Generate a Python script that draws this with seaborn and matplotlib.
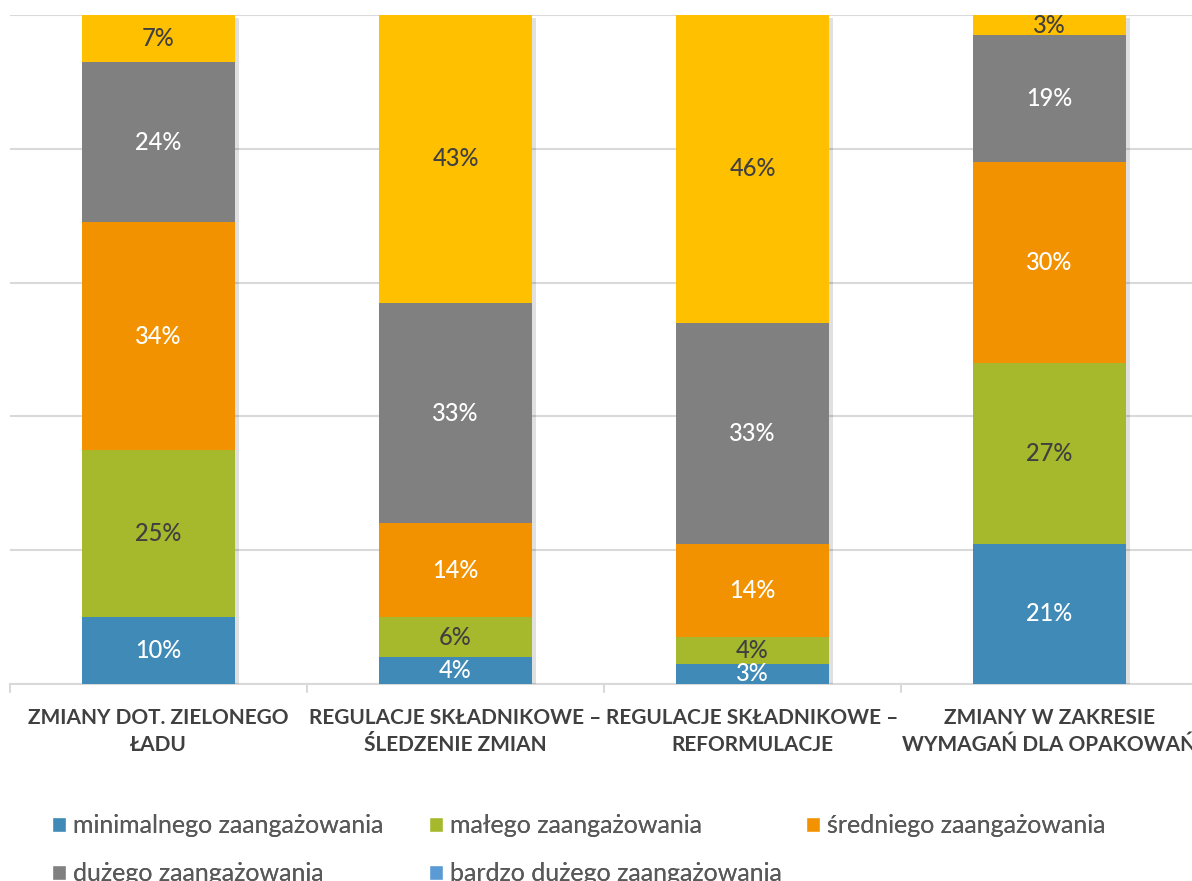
import matplotlib
matplotlib.use("Agg")
import matplotlib.pyplot as plt
import seaborn as sns
import pandas as pd
import numpy as np
from matplotlib import patheffects as pe
from matplotlib.patches import Patch

# Data (percent of respondents per topic)
categories = [
    "ZMIANY DOT. ZIELONEGO\nŁADU",
    "REGULACJE SKŁADNIKOWE –\nŚLEDZENIE ZMIAN",
    "REGULACJE SKŁADNIKOWE –\nREFORMULACJE",
    "ZMIANY W ZAKRESIE\nWYMAGAŃ DLA OPAKOWAŃ",
]
minimal = [10, 4, 3, 21]
small = [25, 6, 4, 27]
medium = [34, 14, 14, 30]
large = [24, 33, 33, 19]
top_share = [7, 43, 46, 3]

legend_labels = [
    "minimalnego zaangażowania",
    "małego zaangażowania",
    "średniego zaangażowania",
    "dużego zaangażowania",
    "bardzo dużego zaangażowania",
]

BLUE = "#3F8AB6"
GREEN = "#A6B82C"
ORANGE = "#F39200"
GRAY = "#808080"
YELLOW = "#FFC000"
LIGHTBLUE = "#5B9BD5"
DARK = "#404040"

sns.set_style("white")
plt.rcParams["font.family"] = ["Lato", "DejaVu Sans"]

segments = [minimal, small, medium, large, top_share]
seg_colors = [BLUE, GREEN, ORANGE, GRAY, YELLOW]
label_colors = ["white", DARK, "white", "white", DARK]

df = pd.DataFrame({"cat": categories})
cum = np.cumsum(np.array(segments), axis=0)

fig = plt.figure(figsize=(11.92, 8.81), dpi=100)
ax = fig.add_axes([10 / 1192, (881 - 684) / 881, 1188 / 1192, (684 - 15) / 881])

# Draw cumulative layers from the tallest down so each segment shows its own share
for i in range(len(segments) - 1, -1, -1):
    d = df.copy()
    d["val"] = cum[i]
    sns.barplot(data=d, x="cat", y="val", color=seg_colors[i], width=0.515,
                saturation=1, ax=ax, zorder=3, edgecolor="none", linewidth=0)
    if i == len(segments) - 1:
        for p in ax.patches:
            p.set_path_effects([pe.SimplePatchShadow(offset=(3, -2), shadow_rgbFace="#000000", alpha=0.12),
                                pe.Normal()])

# Segment value labels
for i, vals in enumerate(segments):
    base = cum[i] - np.array(vals)
    for j, v in enumerate(vals):
        ax.text(j, base[j] + v / 2, f"{v}%", ha="center", va="center",
                fontsize=17, fontweight="medium", color=label_colors[i], zorder=5)

ax.set_xlim(-0.5, 3.5)
ax.set_ylim(0, 100)
ax.set_yticks(np.arange(0, 101, 20))
ax.set_yticklabels([])
ax.tick_params(axis="y", length=0)
ax.yaxis.grid(True, color="#D9D9D9", linewidth=1.5, zorder=0)
ax.set_axisbelow(True)
for s in ["left", "right", "top"]:
    ax.spines[s].set_visible(False)
ax.spines["bottom"].set_color("#D9D9D9")
ax.spines["bottom"].set_linewidth(1.5)
ax.set_xlabel("")
ax.set_ylabel("")

# Category ticks sit between bars
ax.set_xticks([0, 1, 2, 3])
ax.set_xticklabels(categories, fontsize=15, fontweight="bold", color=DARK, linespacing=1.45)
ax.tick_params(axis="x", length=0, pad=17)
for xb in [-0.5, 0.5, 1.5, 2.5, 3.5]:
    ax.plot([xb, xb], [0, -1.2], color="#D9D9D9", lw=1.5, clip_on=False, zorder=1)

# Legend laid out in three columns
handles = [Patch(facecolor=c) for c in [BLUE, GREEN, ORANGE, GRAY, LIGHTBLUE]]
columns = [([0, 3], 52), ([1, 4], 429), ([2], 806)]
for idx, xpx in columns:
    leg = fig.legend([handles[k] for k in idx], [legend_labels[k] for k in idx],
                     loc="upper left", bbox_to_anchor=(xpx / 1192, 1 - 814 / 881),
                     frameon=False, fontsize=18, handlelength=0.56, handleheight=0.56,
                     handletextpad=0.28, labelspacing=1.0, borderpad=0, borderaxespad=0)
    for t in leg.get_texts():
        t.set_color("#595959")
    fig.add_artist(leg)

fig.savefig("out.png", dpi=100)
